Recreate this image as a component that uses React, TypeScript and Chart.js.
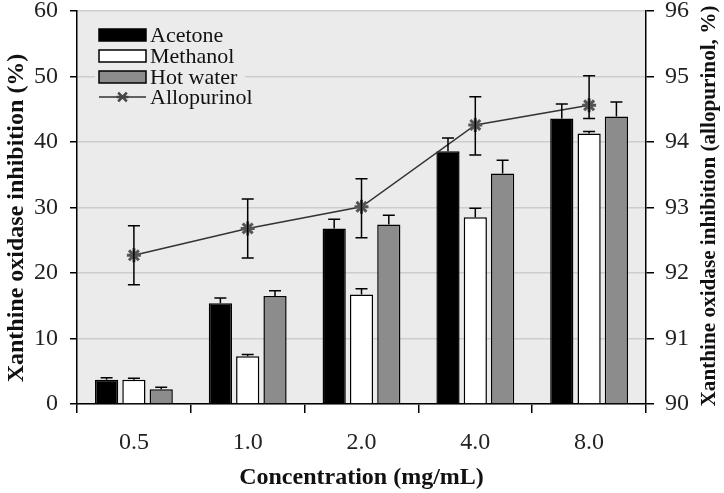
import React, { useEffect, useRef } from "react";
import { Chart, registerables } from "chart.js";

Chart.register(...registerables);

const categories = ["0.5", "1.0", "2.0", "4.0", "8.0"];
const acetone = [3.7, 15.4, 26.8, 38.6, 43.6];
const acetoneErr = [0.3, 0.8, 1.4, 2.0, 2.2];
const methanol = [3.7, 7.3, 16.7, 28.5, 41.3];
const methanolErr = [0.25, 0.25, 0.9, 1.4, 0.3];
const hotwater = [2.25, 16.5, 27.4, 35.2, 43.9];
const hotwaterErr = [0.3, 0.8, 1.4, 2.0, 2.2];
const allopurinol = [92.27, 92.68, 93.01, 94.26, 94.56];
const allopurinolErrUp = [0.45, 0.45, 0.43, 0.43, 0.45];
const allopurinolErrDown = [0.45, 0.45, 0.47, 0.46, 0.2];
const leftTicks = [0, 10, 20, 30, 40, 50, 60];
const rightTicks = [90, 91, 92, 93, 94, 95, 96];

const SERIF = "'Liberation Serif', 'Times New Roman', serif";

const barSeries = [
  { label: "Acetone", data: acetone, err: acetoneErr, fill: "#000000" },
  { label: "Methanol", data: methanol, err: methanolErr, fill: "#ffffff" },
  { label: "Hot water", data: hotwater, err: hotwaterErr, fill: "#8c8c8c" },
];

const bgPlugin = {
  id: "bgPlugin",
  beforeDraw(chart: any) {
    const { ctx, chartArea } = chart;
    ctx.save();
    ctx.fillStyle = "#ffffff";
    ctx.fillRect(0, 0, chart.width, chart.height);
    ctx.fillStyle = "#ebebeb";
    ctx.fillRect(chartArea.left, chartArea.top, chartArea.right - chartArea.left, chartArea.bottom - chartArea.top);
    ctx.restore();
  },
};

const errorPlugin = {
  id: "errorPlugin",
  afterDatasetsDraw(chart: any) {
    const { ctx } = chart;
    const ys = chart.scales.y;
    const y1 = chart.scales.y1;
    ctx.save();
    ctx.strokeStyle = "#000";
    ctx.lineWidth = 1.5;
    barSeries.forEach((s, i) => {
      const meta = chart.getDatasetMeta(i);
      meta.data.forEach((el: any, j: number) => {
        const x = el.x;
        const yTop = ys.getPixelForValue(s.data[j]);
        const yErr = ys.getPixelForValue(s.data[j] + s.err[j]);
        ctx.beginPath();
        ctx.moveTo(x, yTop);
        ctx.lineTo(x, yErr);
        ctx.moveTo(x - 6, yErr);
        ctx.lineTo(x + 6, yErr);
        ctx.stroke();
      });
    });
    const lmeta = chart.getDatasetMeta(3);
    lmeta.data.forEach((el: any, j: number) => {
      const x = el.x;
      const yU = y1.getPixelForValue(allopurinol[j] + allopurinolErrUp[j]);
      const yD = y1.getPixelForValue(allopurinol[j] - allopurinolErrDown[j]);
      ctx.beginPath();
      ctx.moveTo(x, yU);
      ctx.lineTo(x, yD);
      ctx.moveTo(x - 6, yU);
      ctx.lineTo(x + 6, yU);
      ctx.moveTo(x - 6, yD);
      ctx.lineTo(x + 6, yD);
      ctx.stroke();
    });
    ctx.restore();
  },
};

function drawStar(ctx: CanvasRenderingContext2D, x: number, y: number, r: number) {
  ctx.beginPath();
  const d = r * 0.72;
  ctx.moveTo(x - d, y - d);
  ctx.lineTo(x + d, y + d);
  ctx.moveTo(x + d, y - d);
  ctx.lineTo(x - d, y + d);
  ctx.moveTo(x - r, y);
  ctx.lineTo(x + r, y);
  ctx.stroke();
}

function drawTitle(ctx: CanvasRenderingContext2D, text: string, cx: number, cy: number, length: number, rot: number) {
  ctx.save();
  ctx.font = `bold 24px ${SERIF}`;
  const w = ctx.measureText(text).width;
  const size = Math.min(24 * (length / w), 25);
  ctx.font = `bold ${size.toFixed(1)}px ${SERIF}`;
  ctx.fillStyle = "#111";
  ctx.textAlign = "center";
  ctx.textBaseline = "middle";
  ctx.translate(cx, cy);
  ctx.rotate(rot);
  ctx.fillText(text, 0, 0);
  ctx.restore();
}

const overlayPlugin = {
  id: "overlayPlugin",
  afterDraw(chart: any) {
    const { ctx } = chart;
    ctx.save();
    // legend
    const bx = 99;
    const bw = 47;
    const rows = [35, 56, 77, 97];
    ctx.fillStyle = "#ebebeb";
    ctx.fillRect(95, 23, 150, 86);
    barSeries.forEach((s, i) => {
      ctx.fillStyle = s.fill;
      ctx.fillRect(bx, rows[i] - 6, bw, 12);
      ctx.strokeStyle = "#000";
      ctx.lineWidth = 1.5;
      ctx.strokeRect(bx, rows[i] - 6, bw, 12);
    });
    ctx.strokeStyle = "#333";
    ctx.lineWidth = 1.5;
    ctx.beginPath();
    ctx.moveTo(bx, rows[3]);
    ctx.lineTo(bx + bw, rows[3]);
    ctx.stroke();
    ctx.lineWidth = 2.5;
    ctx.strokeStyle = "#444";
    drawStar(ctx, bx + bw / 2, rows[3], 6);
    ctx.fillStyle = "#111";
    ctx.font = `22px ${SERIF}`;
    ctx.textAlign = "left";
    ctx.textBaseline = "middle";
    const labels = [...barSeries.map((s) => s.label), "Allopurinol"];
    labels.forEach((l, i) => ctx.fillText(l, bx + bw + 4, rows[i] + 1));
    ctx.restore();

    const ca = chart.chartArea;
    drawTitle(ctx, "Xanthine oxidase inhibition (%)", 17, 218, 329, -Math.PI / 2);
    drawTitle(ctx, "Xanthine oxidase inhibition (allopurinol, %)", 710, 206, 402, -Math.PI / 2);
    drawTitle(ctx, "Concentration (mg/mL)", (ca.left + ca.right) / 2, 478, 245, 0);
  },
};

export default function App() {
  const ref = useRef<HTMLCanvasElement | null>(null);
  useEffect(() => {
    if (!ref.current) return;
    const tickFont = { family: SERIF, size: 24 };
    const chart = new Chart(ref.current, {
      type: "bar",
      data: {
        labels: categories,
        datasets: [
          ...barSeries.map((s) => ({
            type: "bar" as const,
            label: s.label,
            data: s.data,
            backgroundColor: s.fill,
            borderColor: "#000",
            borderWidth: 1.5,
            categoryPercentage: 0.72,
            barPercentage: 0.85,
            yAxisID: "y",
            order: 2,
          })),
          {
            type: "line" as const,
            label: "Allopurinol",
            data: allopurinol,
            yAxisID: "y1",
            borderColor: "#333",
            borderWidth: 1.5,
            pointStyle: "star",
            pointRadius: 7,
            pointBorderWidth: 3,
            pointBorderColor: "#555",
            pointBackgroundColor: "#555",
            order: 1,
          } as any,
        ],
      },
      options: {
        animation: false,
        responsive: true,
        maintainAspectRatio: false,
        layout: { padding: { top: 11, left: 0, right: 0, bottom: 0 } },
        plugins: { legend: { display: false }, tooltip: { enabled: false } },
        scales: {
          x: {
            offset: true,
            grid: { offset: true, drawOnChartArea: false, color: "#000", tickColor: "#000", tickLength: 9, lineWidth: 1.5 },
            border: { color: "#000", width: 1.5 },
            ticks: { font: tickFont, color: "#222", padding: 15 },
            afterFit: (s: any) => {
              s.height = 89;
              s.paddingLeft = 0;
              s.paddingRight = 0;
            },
          },
          y: {
            position: "left",
            min: leftTicks[0],
            max: leftTicks[leftTicks.length - 1],
            afterBuildTicks: (s: any) => {
              s.ticks = leftTicks.map((v) => ({ value: v }));
            },
            ticks: { font: tickFont, color: "#222", padding: 12 },
            grid: { color: "#cdcdcd", lineWidth: 1.5, tickColor: "#000", tickLength: 7 },
            border: { color: "#000", width: 1.5 },
            afterFit: (s: any) => {
              s.width = 77;
              s.paddingTop = 0;
              s.paddingBottom = 0;
            },
          },
          y1: {
            position: "right",
            min: rightTicks[0],
            max: rightTicks[rightTicks.length - 1],
            afterBuildTicks: (s: any) => {
              s.ticks = rightTicks.map((v) => ({ value: v }));
            },
            ticks: { font: tickFont, color: "#222", padding: 11 },
            grid: { drawOnChartArea: false, lineWidth: 1.5, tickColor: "#000", tickLength: 8 },
            border: { color: "#000", width: 1.5 },
            afterFit: (s: any) => {
              s.width = 78;
              s.paddingTop = 0;
              s.paddingBottom = 0;
            },
          },
        },
      } as any,
      plugins: [bgPlugin, errorPlugin, overlayPlugin],
    });
    return () => chart.destroy();
  }, []);
  return (
    <div style={{ position: "absolute", left: 0, top: 0, width: 724, height: 493, background: "#fff" }}>
      <canvas ref={ref} />
    </div>
  );
}
